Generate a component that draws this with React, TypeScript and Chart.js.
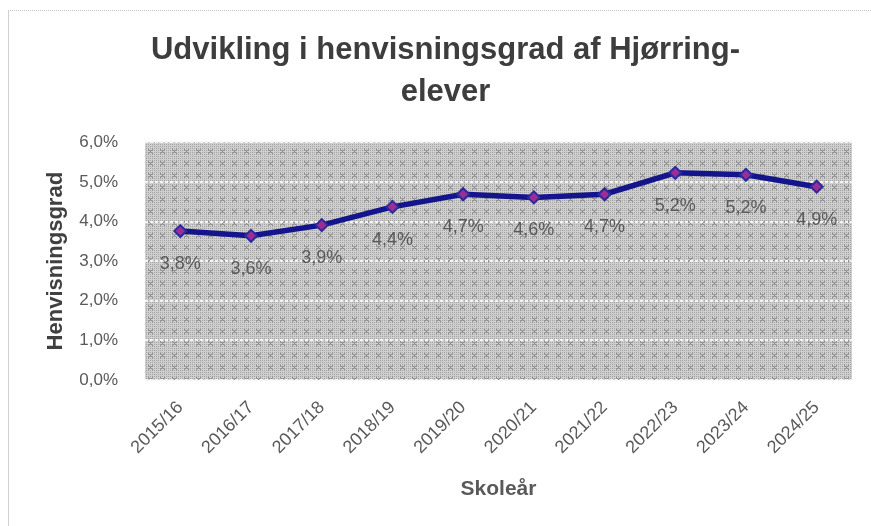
import React, { useEffect, useRef } from "react";
import { Chart, registerables } from "chart.js";

Chart.register(...registerables);

const categories = [
  "2015/16", "2016/17", "2017/18", "2018/19", "2019/20",
  "2020/21", "2021/22", "2022/23", "2023/24", "2024/25",
];
const referralRate = [3.76, 3.64, 3.91, 4.37, 4.69, 4.61, 4.69, 5.23, 5.18, 4.88];
const yTicks = [0, 1, 2, 3, 4, 5, 6];
const titleLines = ["Udvikling i henvisningsgrad af Hjørring-", "elever"];
const yTitle = "Henvisningsgrad";
const xTitle = "Skoleår";

const fmt = (v: number) => v.toFixed(1).replace(".", ",") + "%";

function makePattern(): CanvasPattern | string {
  const c = document.createElement("canvas");
  c.width = 12;
  c.height = 12;
  const g = c.getContext("2d");
  if (!g) return "#c4c4c4";
  g.fillStyle = "#cfcfcf";
  g.fillRect(0, 0, 12, 12);
  g.fillStyle = "#a3a3a3";
  for (let x = 0; x < 12; x += 2) {
    for (let y = 0; y < 12; y += 2) g.fillRect(x, y, 1, 1);
  }
  g.fillStyle = "#8a8a8a";
  for (let i = 0; i < 5; i++) {
    g.fillRect(4 + i, 5 + i, 1, 1);
    g.fillRect(8 - i, 5 + i, 1, 1);
  }
  return g.createPattern(c, "repeat") || "#c4c4c4";
}

export default function App() {
  const ref = useRef<HTMLCanvasElement | null>(null);

  useEffect(() => {
    if (!ref.current) return;
    const pattern = makePattern();

    const bgPlugin = {
      id: "plotBg",
      beforeDraw(chart: any) {
        const { ctx, chartArea } = chart;
        ctx.save();
        ctx.fillStyle = pattern;
        ctx.fillRect(chartArea.left, chartArea.top, chartArea.right - chartArea.left, chartArea.bottom - chartArea.top);
        ctx.restore();
      },
    };

    const labelPlugin = {
      id: "valueLabels",
      afterDatasetsDraw(chart: any) {
        const { ctx } = chart;
        const meta = chart.getDatasetMeta(0);
        ctx.save();
        ctx.font = "18px 'Liberation Sans', Arial, sans-serif";
        ctx.fillStyle = "#595959";
        ctx.textAlign = "center";
        ctx.textBaseline = "middle";
        meta.data.forEach((el: any, i: number) => {
          ctx.fillText(fmt(referralRate[i]), el.x, el.y + 33);
        });
        ctx.restore();
      },
    };

    const chart = new Chart(ref.current, {
      type: "line",
      data: {
        labels: categories,
        datasets: [
          {
            data: referralRate,
            borderColor: "#14148c",
            borderWidth: 5.5,
            pointStyle: "rectRot",
            pointRadius: 6,
            pointBorderWidth: 2,
            pointBackgroundColor: "#9a2e96",
            pointBorderColor: "#2a2aa0",
            tension: 0,
            fill: false,
          },
        ],
      },
      options: {
        animation: false,
        responsive: false,
        maintainAspectRatio: false,
        layout: { padding: { left: 39, right: 19, top: 0, bottom: 0 } },
        plugins: {
          legend: { display: false },
          tooltip: { enabled: false },
          title: {
            display: true,
            text: titleLines,
            color: "#3d3d3d",
            font: { family: "'Liberation Sans', Arial, sans-serif", size: 31, weight: "bold", lineHeight: 1.36 },
            padding: { top: 29, bottom: 29 },
          },
        },
        scales: {
          x: {
            type: "category",
            offset: true,
            grid: { display: false, drawTicks: false, tickLength: 0 },
            border: { display: false },
            ticks: {
              color: "#595959",
              font: { family: "'Liberation Sans', Arial, sans-serif", size: 18 },
              minRotation: 45,
              maxRotation: 45,
              padding: 17,
              autoSkip: false,
            },
            title: {
              display: true,
              text: xTitle,
              color: "#595959",
              font: { family: "'Liberation Sans', Arial, sans-serif", size: 21, weight: "bold" },
              padding: { top: 4, bottom: 24 },
            },
            afterFit: (scale: any) => {
              scale.height = 146;
            },
          },
          y: {
            min: 0,
            max: 6,
            afterBuildTicks: (scale: any) => {
              scale.ticks = yTicks.map((v) => ({ value: v }));
            },
            grid: {
              color: "#f4f4f4",
              lineWidth: 2,
              drawTicks: false,
              tickLength: 0,
            },
            border: { display: false, dash: [3, 2] },
            ticks: {
              color: "#595959",
              font: { family: "'Liberation Sans', Arial, sans-serif", size: 17 },
              padding: 27,
              callback: (v: any) => fmt(Number(v)),
            },
            title: {
              display: true,
              text: yTitle,
              color: "#404040",
              font: { family: "'Liberation Sans', Arial, sans-serif", size: 22, weight: "bold" },
              padding: { top: 4, bottom: 4 },
            },
            afterFit: (scale: any) => {
              scale.width = 106;
            },
          },
        },
      },
      plugins: [bgPlugin, labelPlugin],
    });
    return () => chart.destroy();
  }, []);

  return (
    <div style={{ position: "fixed", left: 0, top: 0, width: 871, height: 526, background: "#ffffff" }}>
      <div
        style={{
          position: "absolute",
          left: 8,
          top: 10,
          width: 863,
          height: 516,
          borderTop: "1px dotted #c4c4c4",
          borderLeft: "1px solid #d0d0d0",
          boxSizing: "border-box",
        }}
      />
      <canvas ref={ref} width={871} height={526} style={{ position: "absolute", left: 0, top: 0 }} />
    </div>
  );
}
